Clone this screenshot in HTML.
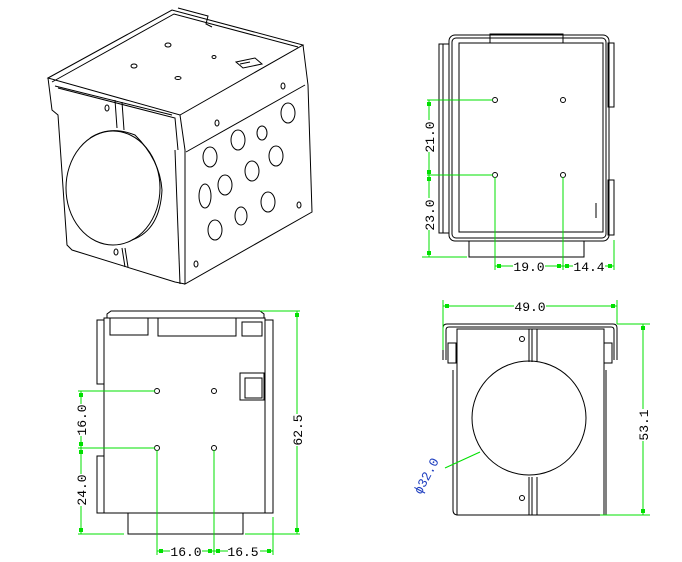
<!DOCTYPE html>
<html><head><meta charset="utf-8"><style>
html,body{margin:0;padding:0;background:#fff;}
svg{display:block;}
text{font-family:"Liberation Mono","DejaVu Sans Mono",monospace;font-size:13px;fill:#000;}
</style></head><body>
<svg width="682" height="562" viewBox="0 0 682 562" xmlns="http://www.w3.org/2000/svg">
<g fill="none" stroke="#000" stroke-width="1">
<!-- ISO VIEW -->
<path d="M48,78 L172,10 L303,45 L180,115 Z"/>
<path d="M52,82 L174,14 L298,47"/>
<path d="M178,8 L208,16 L206,24 L212,27"/>
<path d="M48,78 L52,110 L58,115 L67,245 L72,250 L175,282 L185,284"/>
<path d="M58,88 L175,118 L178,150"/>
<path d="M55,86 L172,115"/>
<path d="M180,115 L185,150 L185,284 L312,212 L308,85 L303,45"/>
<path d="M186,152 L305,85"/>
<path d="M175,150 L180,284"/>
<path d="M115,100 L117,128 M122,102 L124,130 M122,248 L125,267 M125,248 L128,267"/>
<path d="M236,62 L255,58 L262,64 L243,68 Z M240,64 L250,62"/>
<ellipse cx="113" cy="188" rx="47" ry="57"/>
<path d="M90,138 Q110,125 135,135 Q160,160 162,190 Q160,230 132,240"/>
<ellipse cx="288" cy="113" rx="7" ry="10"/><ellipse cx="238" cy="140" rx="7" ry="10"/>
<ellipse cx="262" cy="133" rx="5" ry="7"/><ellipse cx="276" cy="156" rx="7" ry="10"/>
<ellipse cx="210" cy="157" rx="7" ry="10"/><ellipse cx="252" cy="171" rx="7" ry="10"/>
<ellipse cx="225" cy="185" rx="7" ry="10"/><ellipse cx="205" cy="196" rx="6" ry="12"/>
<ellipse cx="268" cy="202" rx="7" ry="10"/><ellipse cx="241" cy="216" rx="6" ry="9"/>
<ellipse cx="215" cy="230" rx="7" ry="10"/>
<ellipse cx="168" cy="45" rx="3" ry="2"/><ellipse cx="134" cy="66" rx="3" ry="2"/>
<ellipse cx="178" cy="78" rx="3" ry="1.5"/><ellipse cx="214" cy="57" rx="2" ry="1.5"/>
<ellipse cx="107" cy="108" rx="2" ry="3"/><ellipse cx="116" cy="252" rx="2" ry="3"/>
<ellipse cx="283" cy="86" rx="2" ry="3"/><ellipse cx="217" cy="123" rx="2" ry="3"/>
<ellipse cx="299" cy="205" rx="2" ry="3"/><ellipse cx="196" cy="264" rx="2" ry="3"/>

<!-- TOP RIGHT VIEW -->
<rect x="439" y="44" width="10" height="189"/>
<line x1="443" y1="44" x2="443" y2="233"/>
<rect x="449" y="35" width="160" height="206" rx="6"/>
<rect x="452" y="38" width="154" height="200" rx="4"/>
<rect x="459" y="43" width="144" height="189"/>
<rect x="490" y="34" width="73" height="9"/>
<rect x="469" y="241" width="115" height="16"/>
<rect x="608" y="43" width="6" height="64"/><rect x="608" y="180" width="6" height="55"/>
<line x1="596" y1="203" x2="596" y2="218"/>
<circle cx="495" cy="100" r="2.5"/><circle cx="563" cy="100" r="2.5"/>
<circle cx="495" cy="175" r="2.5"/><circle cx="563" cy="175" r="2.5"/>

<!-- BOTTOM LEFT VIEW -->
<rect x="104" y="318" width="161" height="195"/>
<rect x="265" y="320" width="8" height="193"/>
<rect x="97" y="320" width="7" height="64"/><rect x="97" y="456" width="7" height="57"/>
<path d="M107,318 L107,314 L111,311 L260,311 L264,314 L264,318"/>
<rect x="110" y="318" width="38" height="17"/>
<rect x="158" y="318" width="78" height="18"/>
<rect x="242" y="322" width="20" height="14"/>
<rect x="240" y="373" width="24" height="27"/><rect x="245" y="378" width="17" height="20"/>
<rect x="128" y="513" width="115" height="21"/>
<circle cx="157" cy="391" r="2.5"/><circle cx="214" cy="391" r="2.5"/>
<circle cx="157" cy="448" r="2.5"/><circle cx="214" cy="448" r="2.5"/>

<!-- FRONT VIEW -->
<path d="M443,360 L443,328 Q443,324 447,324 L613,324 Q617,324 617,328 L617,360"/>
<path d="M446,360 L446,330 Q446,327 449,327 L611,327 Q614,327 614,330 L614,360"/>
<path d="M453,370 L453,510 Q453,515 458,515 L606,515 L606,370"/>
<rect x="457" y="329" width="147" height="186"/>
<line x1="529" y1="329" x2="529" y2="362"/><line x1="537" y1="329" x2="537" y2="362"/>
<line x1="532" y1="329" x2="532" y2="362"/>
<line x1="529" y1="477" x2="529" y2="515"/><line x1="537" y1="477" x2="537" y2="515"/>
<line x1="532" y1="477" x2="532" y2="515"/>
<circle cx="529" cy="418" r="57"/>
<circle cx="522" cy="339" r="2.5"/><circle cx="522" cy="498" r="2.5"/>
<rect x="448" y="343" width="8" height="20"/><rect x="604" y="343" width="8" height="20"/>
</g>

<!-- DIMENSIONS -->
<g stroke="#00e000" stroke-width="1" fill="none">
<line x1="427" y1="100" x2="493" y2="100"/><line x1="427" y1="175" x2="493" y2="175"/>
<line x1="422" y1="257" x2="467" y2="257"/>
<line x1="429" y1="100" x2="429" y2="257"/>
<line x1="495" y1="177" x2="495" y2="270"/><line x1="563" y1="177" x2="563" y2="270"/>
<line x1="614" y1="240" x2="614" y2="270"/>
<line x1="495" y1="266" x2="614" y2="266"/>

<line x1="78" y1="391" x2="155" y2="391"/><line x1="78" y1="448" x2="155" y2="448"/>
<line x1="78" y1="534" x2="124" y2="534"/>
<line x1="81" y1="391" x2="81" y2="534"/>
<line x1="260" y1="311" x2="300" y2="311"/><line x1="245" y1="534" x2="300" y2="534"/>
<line x1="297" y1="311" x2="297" y2="534"/>
<line x1="157" y1="450" x2="157" y2="555"/><line x1="214" y1="450" x2="214" y2="555"/>
<line x1="273" y1="517" x2="273" y2="555"/>
<line x1="157" y1="551" x2="273" y2="551"/>

<line x1="443" y1="300" x2="443" y2="350"/><line x1="617" y1="300" x2="617" y2="324"/>
<line x1="443" y1="306" x2="617" y2="306"/>
<line x1="617" y1="324" x2="650" y2="324"/><line x1="600" y1="515" x2="650" y2="515"/>
<line x1="643" y1="324" x2="643" y2="515"/>
<line x1="480" y1="452" x2="445" y2="468"/>
</g>
<g fill="#00e000">
<rect x="427" y="102" width="4" height="4"/><rect x="427" y="170" width="4" height="4"/>
<rect x="427" y="177" width="4" height="4"/><rect x="427" y="251" width="4" height="4"/>
<rect x="497" y="264" width="4" height="4"/><rect x="557" y="264" width="4" height="4"/>
<rect x="565" y="264" width="4" height="4"/><rect x="608" y="264" width="4" height="4"/>
<rect x="79" y="393" width="4" height="4"/><rect x="79" y="442" width="4" height="4"/>
<rect x="79" y="450" width="4" height="4"/><rect x="79" y="528" width="4" height="4"/>
<rect x="295" y="313" width="4" height="4"/><rect x="295" y="528" width="4" height="4"/>
<rect x="159" y="549" width="4" height="4"/><rect x="208" y="549" width="4" height="4"/>
<rect x="216" y="549" width="4" height="4"/><rect x="267" y="549" width="4" height="4"/>
<rect x="445" y="304" width="4" height="4"/><rect x="611" y="304" width="4" height="4"/>
<rect x="641" y="326" width="4" height="4"/><rect x="641" y="509" width="4" height="4"/>
</g>
<g>
<rect x="422" y="120" width="14" height="32" fill="#fff"/>
<text transform="translate(434,137) rotate(-90)" text-anchor="middle">21.0</text>
<rect x="422" y="198" width="14" height="32" fill="#fff"/>
<text transform="translate(434,215) rotate(-90)" text-anchor="middle">23.0</text>
<rect x="513" y="259" width="32" height="14" fill="#fff"/>
<text x="529" y="271" text-anchor="middle">19.0</text>
<rect x="573" y="259" width="32" height="14" fill="#fff"/>
<text x="589" y="271" text-anchor="middle">14.4</text>

<rect x="74" y="404" width="14" height="32" fill="#fff"/>
<text transform="translate(86,420) rotate(-90)" text-anchor="middle">16.0</text>
<rect x="74" y="474" width="14" height="32" fill="#fff"/>
<text transform="translate(86,490) rotate(-90)" text-anchor="middle">24.0</text>
<rect x="290" y="414" width="14" height="32" fill="#fff"/>
<text transform="translate(302,430) rotate(-90)" text-anchor="middle">62.5</text>
<rect x="170" y="544" width="32" height="14" fill="#fff"/>
<text x="186" y="556" text-anchor="middle">16.0</text>
<rect x="228" y="544" width="32" height="14" fill="#fff"/>
<text x="243" y="556" text-anchor="middle">16.5</text>

<rect x="514" y="299" width="32" height="14" fill="#fff"/>
<text x="530" y="311" text-anchor="middle">49.0</text>
<rect x="636" y="409" width="14" height="32" fill="#fff"/>
<text transform="translate(648,425) rotate(-90)" text-anchor="middle">53.1</text>
<text transform="translate(430,478) rotate(-62)" text-anchor="middle" style="fill:#2040c0">ϕ32.0</text>
</g>
</svg>
</body></html>
